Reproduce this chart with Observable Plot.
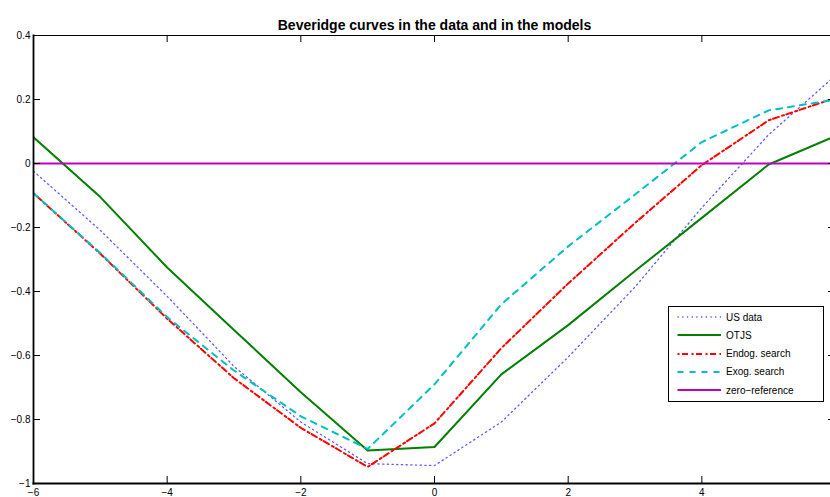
<!DOCTYPE html>
<html>
<head>
<meta charset="utf-8">
<script src="https://cdn.jsdelivr.net/npm/d3@7"></script>
<script src="https://cdn.jsdelivr.net/npm/@observablehq/plot@0.6"></script>
<style>
  html, body { margin: 0; padding: 0; background: white; overflow: hidden; }
  #wrap { position: relative; width: 830px; height: 497px; font-family: "Liberation Sans", Arial, Helvetica, sans-serif; }
  #legend { position: absolute; left: 668px; top: 306px; width: 156px; height: 96px; box-sizing: border-box;
            border: 1px solid black; background: white; }
  .row { position: absolute; left: 0; height: 14px; display: flex; align-items: center; }
  .row svg { margin-left: 8px; }
  .row span { margin-left: 4px; font-size: 10px; color: black; white-space: nowrap; }
</style>
</head>
<body>
<div id="wrap"></div>
<script>
// ---- data ----
const xValues = [-6, -5, -4, -3, -2, -1, 0, 1, 2, 3, 4, 5, 6];
const usData   = [-0.024, -0.209, -0.415, -0.634, -0.808, -0.938, -0.944, -0.808, -0.605, -0.386, -0.138, 0.090, 0.275];
const otjs     = [ 0.082, -0.105, -0.325, -0.520, -0.715, -0.897, -0.886, -0.659, -0.505, -0.336, -0.170, -0.003, 0.086];
const endog    = [-0.093, -0.282, -0.485, -0.671, -0.826, -0.948, -0.812, -0.577, -0.375, -0.186, -0.005, 0.135, 0.205];
const exog     = [-0.093, -0.280, -0.480, -0.647, -0.790, -0.892, -0.690, -0.440, -0.259, -0.097, 0.067, 0.166, 0.200];
const zeroRef  = [0];
const seriesNames = ["US data", "OTJS", "Endog. search", "Exog. search", "zero\u2212reference"];
const xTicks = [-6, -4, -2, 0, 2, 4];
const yTicks = [-1, -0.8, -0.6, -0.4, -0.2, 0, 0.2, 0.4];
const titleText = "Beveridge curves in the data and in the models";

// ---- layout / styles ----
const W = 830, H = 497, mL = 33, mR = 0, mT = 35, mB = 14;
const frameW = W - mL - mR, frameH = H - mT - mB;
const tick = 7;
const styles = [
  {stroke: "#5a5aff", strokeWidth: 1.3, dash: "1.3,3.4"},
  {stroke: "#008000", strokeWidth: 2, dash: null},
  {stroke: "#ff0000", strokeWidth: 2, dash: "2,2.5,6,3.5"},
  {stroke: "#00bfbf", strokeWidth: 2, dash: "6,6"},
  {stroke: "#bf00bf", strokeWidth: 2, dash: null}
];

const toRows = vals => xValues.map((x, i) => ({x, y: vals[i]}));
const fmt = d => d === 0 ? "0" : (d < 0 ? "\u2212" : "") + Math.abs(d);

const lineMark = (vals, s) => Plot.line(toRows(vals), {
  x: "x", y: "y", stroke: s.stroke, strokeWidth: s.strokeWidth,
  strokeDasharray: s.dash, clip: true
});

const chart = Plot.plot({
  width: W,
  height: H,
  marginLeft: mL,
  marginRight: mR,
  marginTop: mT,
  marginBottom: mB,
  x: {domain: [-6, 5.925], label: null},
  y: {domain: [-1, 0.4], label: null},
  style: {fontFamily: "'Liberation Sans', Arial, Helvetica, sans-serif", fontSize: "10px", color: "black", background: "white"},
  marks: [
    lineMark(usData, styles[0]),
    lineMark(otjs, styles[1]),
    lineMark(endog, styles[2]),
    lineMark(exog, styles[3]),
    Plot.ruleY(zeroRef, {y: d => d, stroke: styles[4].stroke, strokeWidth: styles[4].strokeWidth}),
    Plot.frame({anchor: "top", strokeWidth: 1.2}),
    Plot.frame({anchor: "left", strokeWidth: 1.8}),
    Plot.frame({anchor: "bottom", strokeWidth: 2}),
    // inward tick marks (MATLAB style)
    Plot.ruleX(xTicks, {x: d => d, insetTop: frameH - tick, stroke: "black", strokeWidth: 1}),
    Plot.ruleX(xTicks, {x: d => d, insetBottom: frameH - tick, stroke: "black", strokeWidth: 1}),
    Plot.ruleY(yTicks, {y: d => d, insetRight: frameW - tick, stroke: "black", strokeWidth: 1}),
    Plot.ruleY(yTicks, {y: d => d, insetLeft: frameW - 2, stroke: "black", strokeWidth: 1}),
    // tick labels
    Plot.axisX({anchor: "bottom", label: null, ticks: xTicks, tickSize: 0, tickPadding: 5, tickFormat: fmt}),
    Plot.axisY({anchor: "left", label: null, ticks: yTicks, tickSize: 0, tickPadding: 3, tickFormat: fmt}),
    Plot.text([titleText], {text: d => d, frameAnchor: "top", dx: 2.5, dy: -15, fontWeight: "bold", fontSize: 14, fill: "black"})
  ]
});

const wrap = document.getElementById("wrap");
wrap.appendChild(chart);

// ---- legend ----
const legend = document.createElement("div");
legend.id = "legend";
const rowCenters = [11, 29, 47.5, 65.5, 84];
seriesNames.forEach((name, i) => {
  const row = document.createElement("div");
  row.className = "row";
  row.style.top = (rowCenters[i] - 7 - 1) + "px";
  const s = styles[i];
  const svg = d3.create("svg").attr("width", 45).attr("height", 14);
  svg.append("line").attr("x1", 0.5).attr("x2", 44).attr("y1", 7).attr("y2", 7)
    .attr("stroke", s.stroke).attr("stroke-width", s.strokeWidth)
    .attr("stroke-dasharray", s.dash);
  row.appendChild(svg.node());
  const span = document.createElement("span");
  span.textContent = name;
  row.appendChild(span);
  legend.appendChild(row);
});
wrap.appendChild(legend);
</script>
</body>
</html>
